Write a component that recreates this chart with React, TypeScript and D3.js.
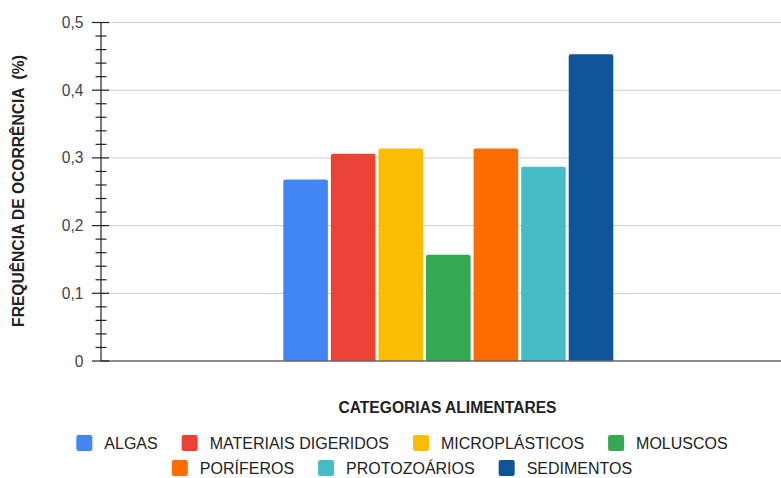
import React from "react";
import * as d3 from "d3";

const categories = ["ALGAS", "MATERIAIS DIGERIDOS", "MICROPLÁSTICOS", "MOLUSCOS", "PORÍFEROS", "PROTOZOÁRIOS", "SEDIMENTOS"];
const values = [0.268, 0.306, 0.314, 0.157, 0.314, 0.287, 0.453];
const colors = ["#4285F4", "#EA4335", "#FBBC04", "#34A853", "#FF6D01", "#46BDC6", "#0D5499"];
const yTicks = [0, 0.1, 0.2, 0.3, 0.4, 0.5];
const legendRows = [[0, 1, 2, 3], [4, 5, 6]];

const W = 781;
const H = 478;
const FONT = "'Liberation Sans', Arial, sans-serif";
const FS = 15.6;
const LFS = 16;

let ctx: CanvasRenderingContext2D | null = null;
function measure(t: string, size: number, bold = false) {
  if (!ctx) ctx = document.createElement("canvas").getContext("2d");
  if (!ctx) return t.length * size * 0.65;
  ctx.font = `${bold ? "bold " : ""}${size}px ${FONT}`;
  return ctx.measureText(t).width;
}

export default function App() {
  const axisX = 101;
  const y = d3.scaleLinear().domain([0, 0.5]).range([361, 22.5]);
  const x = d3.scaleBand<string>().domain(categories).range([283.3, 613.3]).paddingInner(0.063).paddingOuter(0);
  const minor = d3.range(0, 0.5001, 0.02).map((v) => +v.toFixed(2));
  const fmt = (v: number) => (v === 0 ? "0" : d3.format(".1f")(v).replace(".", ","));

  const sq = 16;
  const gapText = 12;
  const gapItem = 24;
  const legendCenter = 402;
  const rowY = [443, 468];

  return (
    <svg width={W} height={H} style={{ position: "absolute", left: 0, top: 0, background: "#fff" }} fontFamily={FONT}>
      {/* gridlines */}
      {yTicks.filter((t) => t > 0).map((t) => (
        <line key={"g" + t} x1={axisX} x2={W} y1={y(t)} y2={y(t)} stroke="#cccccc" strokeWidth={1} />
      ))}
      {/* bars */}
      {categories.map((c, i) => {
        const x0 = x(c)!;
        const w = x.bandwidth();
        const top = y(values[i]);
        const bot = y(0);
        const r = 2;
        const d = `M${x0},${bot}V${top + r}Q${x0},${top} ${x0 + r},${top}H${x0 + w - r}Q${x0 + w},${top} ${x0 + w},${top + r}V${bot}Z`;
        return <path key={c} d={d} fill={colors[i]} />;
      })}
      {/* baseline */}
      <line x1={axisX} x2={W} y1={y(0)} y2={y(0)} stroke="#666666" strokeWidth={1.6} />
      {/* y axis */}
      <line x1={axisX} x2={axisX} y1={y(0.5)} y2={y(0)} stroke="#222" strokeWidth={1.2} />
      {minor.map((t) => {
        const major = Math.abs(t * 10 - Math.round(t * 10)) < 1e-6;
        return (
          <line
            key={"m" + t}
            x1={axisX - (major ? 9 : 5.5)}
            x2={axisX + (major ? 8 : 5.5)}
            y1={y(t)}
            y2={y(t)}
            stroke="#222"
            strokeWidth={1.2}
          />
        );
      })}
      {yTicks.map((t) => (
        <text key={"t" + t} x={83.5} y={y(t) + 5.5} textAnchor="end" fontSize={FS} fill="#444">
          {fmt(t)}
        </text>
      ))}
      {/* axis titles */}
      <text x={447.5} y={413} textAnchor="middle" fontSize={FS} fontWeight="bold" fill="#222">
        CATEGORIAS ALIMENTARES
      </text>
      <text
        transform={`translate(23.5,191) rotate(-90)`}
        textAnchor="middle"
        fontSize={FS}
        fontWeight="bold"
        fill="#222"
        style={{ whiteSpace: "pre" }}
      >
        {"FREQUÊNCIA DE OCORRÊNCIA  (%)"}
      </text>
      {/* legend */}
      {legendRows.map((row, ri) => {
        const widths = row.map((i) => sq + gapText + measure(categories[i], LFS));
        const total = d3.sum(widths) + gapItem * (row.length - 1);
        let cx = legendCenter - total / 2;
        return row.map((i, k) => {
          const x0 = cx;
          cx += widths[k] + gapItem;
          return (
            <g key={"l" + i}>
              <rect x={x0} y={rowY[ri] - sq / 2} width={sq} height={sq} rx={2} fill={colors[i]} />
              <text x={x0 + sq + gapText} y={rowY[ri] + 5.7} fontSize={LFS} fill="#222">
                {categories[i]}
              </text>
            </g>
          );
        });
      })}
    </svg>
  );
}
